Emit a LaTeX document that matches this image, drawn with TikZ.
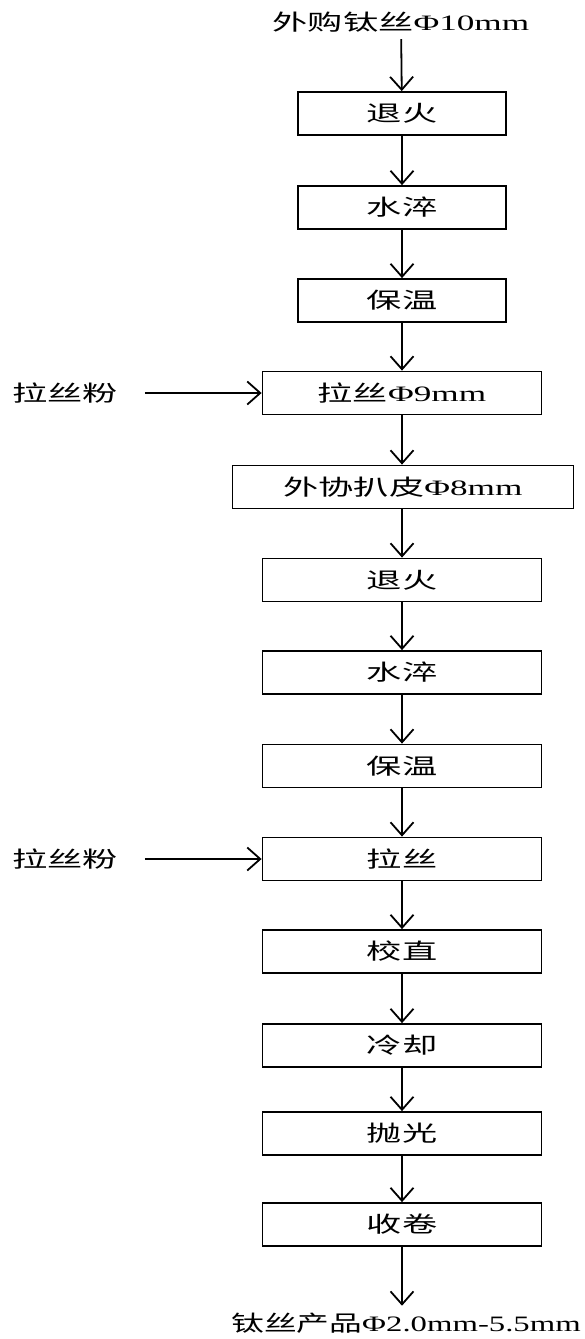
\documentclass[tikz,border=0pt]{standalone}
\usepackage{fontspec}
\setmainfont{Liberation Serif}[FakeStretch=1.6]
\newfontfamily\cjk{Noto Sans CJK SC}[FakeStretch=1.6]
\usetikzlibrary{arrows.meta}

\begin{document}
\begin{tikzpicture}[x=0.5pt,y=-0.5pt,
    font=\fontsize{11}{13}\selectfont,
    box/.style={draw,line width=0.9pt,minimum height=21.5pt,inner sep=0pt},
    flow/.style={line width=0.9pt,-{Straight Barb[length=6.5pt,width=11.5pt,line width=0.9pt]}}]

    \useasboundingbox[fill=white] (0,0) rectangle (584,1339);

    \node (yuanliao) at (401,22) {{\cjk 外购钛丝}Φ10mm};

    \node[box,minimum width=104pt] (tuihuo1) at (402,113.5) {\cjk 退火};
    \node[box,minimum width=104pt] (cuihuo1) at (402,207.5) {\cjk 水淬};
    \node[box,minimum width=104pt] (baowen1) at (402,300.5) {\cjk 保温};
    \node[box,minimum width=139.5pt] (lasi1) at (402,393) {{\cjk 拉丝}Φ9mm};
    \node[box,minimum width=170.5pt] (bapi) at (403,487) {{\cjk 外协扒皮}Φ8mm};
    \node[box,minimum width=139.5pt] (tuihuo2) at (402,580) {\cjk 退火};
    \node[box,minimum width=139.5pt] (cuihuo2) at (402,672.5) {\cjk 水淬};
    \node[box,minimum width=139.5pt] (baowen2) at (402,766) {\cjk 保温};
    \node[box,minimum width=139.5pt] (lasi2) at (402,859) {\cjk 拉丝};
    \node[box,minimum width=139.5pt] (jiaozhi) at (402,951.5) {\cjk 校直};
    \node[box,minimum width=139.5pt] (lengque) at (402,1045.5) {\cjk 冷却};
    \node[box,minimum width=139.5pt] (paoguang) at (402,1133.5) {\cjk 抛光};
    \node[box,minimum width=139.5pt] (shoujuan) at (402,1224.5) {\cjk 收卷};

    \node (chanpin) at (406,1323) {\scalebox{0.93}[1]{{\cjk 钛丝产品}Φ2.0mm-5.5mm}};

    \node (fen1) at (65,393) {\cjk 拉丝粉};
    \node (fen2) at (65,859) {\cjk 拉丝粉};

    % main line
    \draw[flow] (yuanliao) -- (tuihuo1);
    \draw[flow] (tuihuo1) -- (cuihuo1);
    \draw[flow] (cuihuo1) -- (baowen1);
    \draw[flow] (baowen1) -- (lasi1);
    \draw[flow] (lasi1) -- (bapi.north -| lasi1);
    \draw[flow] (bapi.south -| tuihuo2) -- (tuihuo2);
    \draw[flow] (tuihuo2) -- (cuihuo2);
    \draw[flow] (cuihuo2) -- (baowen2);
    \draw[flow] (baowen2) -- (lasi2);
    \draw[flow] (lasi2) -- (jiaozhi);
    \draw[flow] (jiaozhi) -- (lengque);
    \draw[flow] (lengque) -- (paoguang);
    \draw[flow] (paoguang) -- (shoujuan);
    \draw[flow] (shoujuan.south) -- (chanpin.north -| shoujuan);

    % powder
    \draw[flow,shorten <=10pt] (fen1) -- (lasi1);
    \draw[flow,shorten <=10pt] (fen2) -- (lasi2);

\end{tikzpicture}
\end{document}
